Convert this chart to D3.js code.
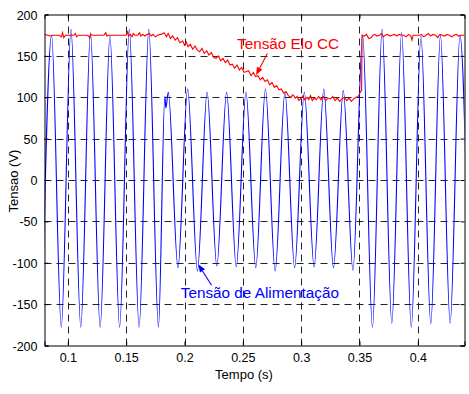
<!DOCTYPE html>
<html>
<head>
<meta charset="utf-8">
<script src="https://cdn.jsdelivr.net/npm/d3@7"></script>
<style>
  html, body { margin: 0; padding: 0; background: #fff; }
  svg { display: block; }
  text { font-family: "Liberation Sans", Arial, Helvetica, sans-serif; }
</style>
</head>
<body>
<svg id="chart" width="469" height="394"></svg>
<script>
// ---------- data ----------
const xTicks = [0.1, 0.15, 0.2, 0.25, 0.3, 0.35, 0.4];
const xTickLabels = ["0.1", "0.15", "0.2", "0.25", "0.3", "0.35", "0.4"];
const yTicks = [-200, -150, -100, -50, 0, 50, 100, 150, 200];
const yTickLabels = ["-200", "-150", "-100", "-50", "0", "50", "100", "150", "200"];

// Supply voltage (blue): instants of the peaks / troughs and their values
const alimTempo = [0.0777, 0.0861, 0.0944, 0.1027, 0.1111, 0.1194, 0.1277, 0.1361, 0.1444, 0.1527,
  0.1611, 0.1694, 0.1777, 0.1832, 0.1840, 0.1861, 0.1944, 0.2027, 0.2111, 0.2194, 0.2277, 0.2361,
  0.2444, 0.2527, 0.2611, 0.2694, 0.2777, 0.2861, 0.2944, 0.3027, 0.3111, 0.3194, 0.3277, 0.3361,
  0.3444, 0.3527, 0.3611, 0.3694, 0.3777, 0.3861, 0.3944, 0.4027, 0.4111, 0.4194, 0.4277, 0.4361, 0.4444];
const alimTensao = [-178, 175, -178, 182, -178, 178, -178, 174, -178, 182,
  -178, 182, -178, 101, 87, 106, -106, 110, -110, 106, -104, 106,
  -105, 106, -106, 110, -110, 106, -106, 106, -105, 110, -106, 108,
  -109, 175, -178, 182, -173, 178, -178, 174, -174, 175, -173, 175, -178];

// DC link voltage (red)
const eloTempo = [0.0800, 0.0825, 0.0850, 0.0875, 0.0900, 0.0925, 0.0945, 0.0955, 0.0965, 0.0980,
  0.1000, 0.1025, 0.1050, 0.1065, 0.1075, 0.1090, 0.1110, 0.1135, 0.1160, 0.1180, 0.1188, 0.1196,
  0.1210, 0.1235, 0.1260, 0.1285, 0.1310, 0.1325, 0.1335, 0.1350, 0.1375, 0.1400, 0.1425, 0.1450,
  0.1475, 0.1500, 0.1512, 0.1520, 0.1535, 0.1550, 0.1560, 0.1575, 0.1600, 0.1615, 0.1625, 0.1640,
  0.1660, 0.1680, 0.1700, 0.1715, 0.1730, 0.1750, 0.1770, 0.1790, 0.1800, 0.1825, 0.1845, 0.1860,
  0.1880, 0.1900, 0.1920, 0.1940, 0.1960, 0.1985, 0.2000, 0.2015, 0.2030, 0.2050, 0.2070, 0.2090,
  0.2110, 0.2130, 0.2150, 0.2170, 0.2190, 0.2210, 0.2230, 0.2250, 0.2270, 0.2290, 0.2310, 0.2330,
  0.2350, 0.2370, 0.2390, 0.2410, 0.2430, 0.2450, 0.2470, 0.2490, 0.2510, 0.2530, 0.2550, 0.2570,
  0.2590, 0.2610, 0.2630, 0.2650, 0.2670, 0.2690, 0.2710, 0.2730, 0.2750, 0.2770, 0.2790, 0.2810,
  0.2830, 0.2850, 0.2870, 0.2890, 0.2910, 0.2930, 0.2950, 0.2965, 0.2980, 0.3000, 0.3015, 0.3030,
  0.3050, 0.3065, 0.3080, 0.3095, 0.3110, 0.3130, 0.3150, 0.3170, 0.3190, 0.3210, 0.3230, 0.3250,
  0.3270, 0.3290, 0.3310, 0.3330, 0.3350, 0.3370, 0.3390, 0.3410, 0.3430, 0.3450, 0.3470, 0.3490,
  0.3505, 0.3518, 0.3522, 0.3540, 0.3560, 0.3580, 0.3600, 0.3615, 0.3630, 0.3650, 0.3670, 0.3690,
  0.3705, 0.3720, 0.3740, 0.3760, 0.3780, 0.3800, 0.3820, 0.3840, 0.3860, 0.3880, 0.3900, 0.3920,
  0.3940, 0.3950, 0.3960, 0.3980, 0.4000, 0.4015, 0.4030, 0.4050, 0.4070, 0.4090, 0.4110, 0.4130,
  0.4150, 0.4170, 0.4190, 0.4210, 0.4230, 0.4250, 0.4270, 0.4290, 0.4310, 0.4330, 0.4350, 0.4370, 0.4400];
const eloTensao = [176, 175, 174, 175, 175, 175, 173, 178, 172, 175,
  175, 175, 175, 177, 173, 175, 175, 175, 175, 174, 171, 176,
  175, 175, 175, 175, 175, 178, 174, 175, 175, 175, 175, 175,
  175, 175, 179, 174, 176, 173, 177, 175, 175, 178, 174, 176,
  174, 176, 177, 174, 176, 173, 175, 176, 176, 178, 173, 177,
  171, 174, 169, 172, 166, 168, 163, 167, 161, 164, 158, 162,
  157, 155, 159, 153, 156, 151, 154, 148, 147, 150, 144, 147,
  142, 145, 139, 140, 135, 139, 133, 136, 130, 131, 132, 126,
  130, 125, 126, 121, 124, 119, 121, 115, 118, 112, 114, 109,
  110, 105, 107, 102, 100, 103, 99, 101, 96, 99, 102, 97,
  100, 97, 102, 96, 99, 97, 101, 97, 101, 96, 99, 98,
  101, 96, 99, 95, 98, 100, 96, 99, 95, 98, 100, 101,
  106, 108, 175, 174, 176, 171, 172, 175, 176, 174, 175, 177,
  173, 175, 176, 174, 175, 176, 174, 176, 175, 175, 173, 176,
  174, 169, 175, 175, 175, 175, 176, 173, 175, 177, 174, 176,
  175, 172, 176, 175, 174, 176, 175, 173, 175, 176, 174, 175, 175];

// annotations (data coordinates)
const annTexts = ["Tensão Elo CC", "Tensão de Alimentação"];
const annColors = ["#ff0000", "#0000ff"];
const annTextPos = [[0.2450, 158.7], [0.1968, -143.2]];
const annArrowFrom = [[0.2710, 152.9], [0.2232, -127.1]];
const annArrowTo = [[0.2613, 126.6], [0.2117, -101.8]];

// ---------- chart ----------
const svg = d3.select("#chart");
const x = d3.scaleLinear().domain([0.08, 0.44]).range([44.5, 464.5]);
const y = d3.scaleLinear().domain([-200, 200]).range([345.5, 14.5]);
const font = '"Liberation Sans", Arial, Helvetica, sans-serif';

svg.append("defs").append("clipPath").attr("id", "plotclip")
  .append("rect")
  .attr("x", x.range()[0]).attr("y", y.range()[1])
  .attr("width", x.range()[1] - x.range()[0])
  .attr("height", y.range()[0] - y.range()[1]);

// grid
const grid = svg.append("g");
grid.selectAll("line.vg").data(xTicks).join("line")
  .attr("x1", d => Math.round(x(d)) + 0.5).attr("x2", d => Math.round(x(d)) + 0.5)
  .attr("y1", y.range()[0]).attr("y2", y.range()[1])
  .attr("stroke", "#222").attr("stroke-width", 1).attr("stroke-dasharray", "7,5");
grid.selectAll("line.hg").data(yTicks.filter(d => d > -200 && d < 200)).join("line")
  .attr("y1", d => Math.round(y(d)) + 0.5).attr("y2", d => Math.round(y(d)) + 0.5)
  .attr("x1", x.range()[0]).attr("x2", x.range()[1])
  .attr("stroke", "#222").attr("stroke-width", 1).attr("stroke-dasharray", "7,5");

// series
const plot = svg.append("g").attr("clip-path", "url(#plotclip)");
const alimData = alimTempo.map((t, i) => [t, alimTensao[i]]);
const eloData = eloTempo.map((t, i) => [t, eloTensao[i]]);

const smooth = d3.line().x(d => x(d[0])).y(d => y(d[1])).curve(d3.curveMonotoneX);
const straight = d3.line().x(d => x(d[0])).y(d => y(d[1]));

plot.append("path").datum(alimData).attr("d", smooth)
  .attr("fill", "none").attr("stroke", "#0000ff").attr("stroke-width", 1.1);
plot.append("path").datum(eloData).attr("d", straight)
  .attr("fill", "none").attr("stroke", "#ff0000").attr("stroke-width", 1.1);

// axes
const fmtX = d => xTickLabels[xTicks.indexOf(d)];
const fmtY = d => yTickLabels[yTicks.indexOf(d)];
const gx = svg.append("g").attr("transform", `translate(0,${y.range()[0]})`)
  .call(d3.axisBottom(x).tickValues(xTicks).tickFormat(fmtX).tickSize(-4).tickPadding(8));
const gxt = svg.append("g").attr("transform", `translate(0,${y.range()[1]})`)
  .call(d3.axisTop(x).tickValues(xTicks).tickFormat("").tickSize(-4));
const gy = svg.append("g").attr("transform", `translate(${x.range()[0]},0)`)
  .call(d3.axisLeft(y).tickValues(yTicks).tickFormat(fmtY).tickSize(-4).tickPadding(7));
const gyr = svg.append("g").attr("transform", `translate(${x.range()[1]},0)`)
  .call(d3.axisRight(y).tickValues(yTicks).tickFormat("").tickSize(-4));

[gx, gxt, gy, gyr].forEach(g => {
  g.select(".domain").attr("stroke", "#000").attr("stroke-width", 1);
  g.selectAll(".tick line").attr("stroke", "#000");
  g.selectAll(".tick text").attr("fill", "#000")
    .style("font-family", font).style("font-size", "12.5px");
});
gy.selectAll(".tick text").attr("dy", "0.36em");

// axis labels
svg.append("text").attr("x", 244).attr("y", 379)
  .attr("text-anchor", "middle").style("font-family", font).style("font-size", "13px")
  .text("Tempo (s)");
svg.append("text").attr("transform", "translate(17.5,181) rotate(-90)")
  .attr("text-anchor", "middle").style("font-family", font).style("font-size", "13px")
  .text("Tensao (V)");

// annotations
annTexts.forEach((txt, i) => {
  const c = annColors[i];
  const x0 = x(annArrowFrom[i][0]), y0 = y(annArrowFrom[i][1]);
  const x1 = x(annArrowTo[i][0]), y1 = y(annArrowTo[i][1]);
  const ang = Math.atan2(y1 - y0, x1 - x0);
  const L = 8, W = 3;
  const bx = x1 - L * Math.cos(ang), by = y1 - L * Math.sin(ang);
  svg.append("line").attr("x1", x0).attr("y1", y0).attr("x2", bx).attr("y2", by)
    .attr("stroke", c).attr("stroke-width", 1.1);
  const px = -Math.sin(ang) * W, py = Math.cos(ang) * W;
  svg.append("path")
    .attr("d", `M${x1},${y1}L${bx + px},${by + py}L${bx - px},${by - py}Z`)
    .attr("fill", c);
  svg.append("text").attr("x", x(annTextPos[i][0])).attr("y", y(annTextPos[i][1]))
    .attr("fill", c).style("font-family", font).style("font-size", "15.3px")
    .text(txt);
});
</script>
</body>
</html>
